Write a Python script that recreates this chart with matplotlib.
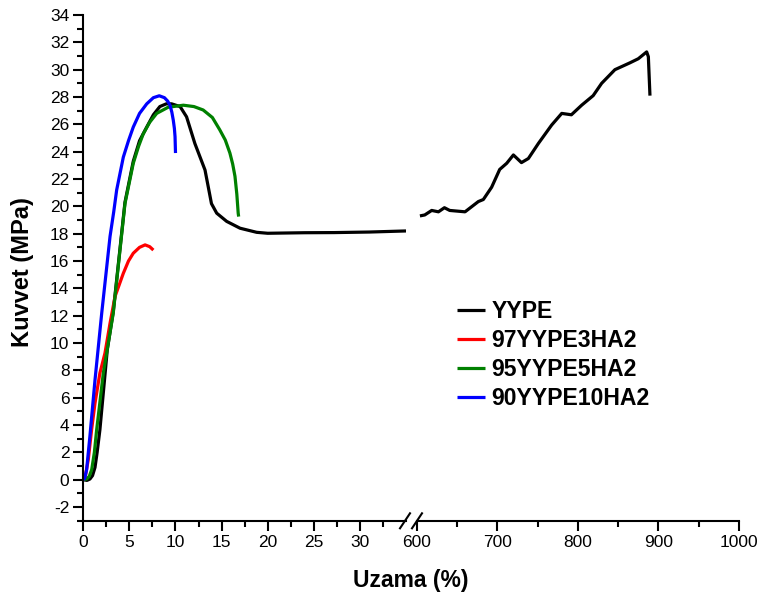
import matplotlib.pyplot as plt
from matplotlib.lines import Line2D

plt.rcParams['font.family'] = ['Liberation Sans', 'DejaVu Sans']
plt.rcParams['axes.unicode_minus'] = False

# stress-strain curves, strain (%) vs force (MPa)
yype_x = [0, 0.4, 0.72, 1.0, 1.27, 1.5, 1.8, 2.3, 2.6, 3.25, 4.09, 4.52, 5.42, 6.1, 6.88,
          7.6, 8.3, 9.0, 9.58, 10.5, 11.2, 12.1, 13.2, 13.56, 13.9, 14.47, 15.55, 17.0,
          18.8, 20.0, 24.0, 27.2, 31.0, 35.0]
yype_y = [0, -0.05, 0.05, 0.3, 0.9, 2.0, 3.65, 7.3, 9.5, 12.3, 17.6, 20.3, 23.3, 24.8,
          25.8, 26.7, 27.3, 27.5, 27.5, 27.3, 26.55, 24.6, 22.66, 21.4, 20.2, 19.5, 18.9,
          18.4, 18.1, 18.03, 18.07, 18.08, 18.12, 18.2]

# YYPE beyond the axis break
yype_x2 = [604, 610, 618.6, 627, 634.4, 641, 660, 676.5, 682.7, 693, 703, 711.7, 720, 730,
           738.6, 751, 767.5, 780, 792, 804.7, 819, 829.5, 846, 864.6, 875, 885.4, 887.5,
           889.5]
yype_y2 = [19.3, 19.37, 19.7, 19.6, 19.9, 19.7, 19.6, 20.35, 20.5, 21.4, 22.7, 23.15, 23.76,
           23.2, 23.5, 24.6, 25.95, 26.8, 26.7, 27.4, 28.1, 29.0, 30.0, 30.5, 30.8, 31.3,
           30.95, 28.1]

ha3_x = [0, 0.18, 0.54, 0.9, 1.27, 1.8, 2.35, 2.9, 3.44, 4.34, 4.9, 5.42, 6.1, 6.7, 7.2, 7.6]
ha3_y = [0, 0.1, 1.46, 3.65, 5.6, 7.8, 9.26, 11.45, 13.4, 15.1, 16.0, 16.57, 17.0, 17.18,
         17.05, 16.8]

ha5_x = [0, 0.37, 0.65, 0.91, 1.2, 1.45, 2.17, 3.25, 4.09, 4.52, 5.42, 6.0, 6.5, 7.2, 7.96,
         9.2, 10.85, 12.0, 13.0, 14.0, 14.8, 15.4, 15.9, 16.2, 16.45, 16.65, 16.8, 16.85]
ha5_y = [0, 0.05, 0.25, 0.73, 2.0, 3.65, 7.8, 12.2, 17.5, 20.2, 23.15, 24.4, 25.3, 26.15,
         26.8, 27.25, 27.4, 27.3, 27.05, 26.5, 25.6, 24.85, 23.9, 23.1, 22.2, 20.9, 19.5,
         19.25]

ha10_x = [0, 0.15, 0.36, 0.72, 1.27, 2.0, 2.9, 3.3, 3.62, 4.34, 4.9, 5.42, 6.1, 6.88, 7.6,
          8.24, 8.8, 9.15, 9.4, 9.6, 9.76, 9.88, 9.95, 10.0]
ha10_y = [0, 0.1, 0.73, 3.2, 7.3, 12.2, 17.8, 19.6, 21.2, 23.6, 24.8, 25.8, 26.8, 27.5,
          27.95, 28.09, 27.95, 27.7, 27.4, 26.9, 26.3, 25.7, 25.1, 23.9]

labels = ['YYPE', '97YYPE3HA2', '95YYPE5HA2', '90YYPE10HA2']
colors = ['black', 'red', 'green', 'blue']

left_ticks = [0, 5, 10, 15, 20, 25, 30]
left_minor = [2.5, 7.5, 12.5, 17.5, 22.5, 27.5, 32.5]
right_ticks = [600, 700, 800, 900, 1000]
right_minor = [650, 750, 850, 950]
y_ticks = list(range(-2, 35, 2))
y_minor = list(range(-3, 35, 2))

W, H = 764, 599
fig = plt.figure(figsize=(W / 100, H / 100), dpi=100)

bottom = 1 - 520.7 / H
height = (520.7 - 15) / H
ax1 = fig.add_axes([83.3 / W, bottom, (406 - 83.3) / W, height])
ax2 = fig.add_axes([416.7 / W, bottom, (739 - 416.7) / W, height], sharey=ax1)

lw = 2.3
kw = dict(lw=lw, solid_joinstyle='round', solid_capstyle='butt')
ax1.plot(yype_x, yype_y, color=colors[0], label=labels[0], **kw)
ax1.plot(ha3_x, ha3_y, color=colors[1], label=labels[1], **kw)
ax1.plot(ha5_x, ha5_y, color=colors[2], label=labels[2], **kw)
ax1.plot(ha10_x, ha10_y, color=colors[3], label=labels[3], **kw)
ax2.plot(yype_x2, yype_y2, color=colors[0], **kw)

ax1.set_xlim(0, 35)
ax2.set_xlim(600, 1000)
ax1.set_ylim(-3, 34)

for ax in (ax1, ax2):
    ax.spines['top'].set_visible(False)
    ax.spines['right'].set_visible(False)
    ax.spines['bottom'].set_linewidth(1.5)
    ax.spines['left'].set_linewidth(1.5)
    ax.tick_params(which='major', direction='out', length=7, width=1.5, labelsize=12.5, pad=3)
    ax.tick_params(which='minor', direction='out', length=4, width=1.5)

ax1.set_xticks(left_ticks)
ax1.set_xticks(left_minor, minor=True)
ax1.set_yticks(y_ticks)
ax1.set_yticks(y_minor, minor=True)
ax2.set_xticks(right_ticks)
ax2.set_xticks(right_minor, minor=True)
ax2.spines['left'].set_visible(False)
ax2.tick_params(axis='y', which='both', left=False, labelleft=False)

# break marks on the x axis
def px(x, y):
    return x / W, 1 - y / H

for x0 in (400, 412):
    (a, b), (c, d) = px(x0, 528.3), px(x0 + 10, 513.3)
    fig.add_artist(Line2D([a, c], [b, d], transform=fig.transFigure, color='black', lw=1.5))

fig.text(411 / W, 1 - 580 / H, 'Uzama (%)', ha='center', va='center',
         fontsize=16.5, fontweight='bold')
fig.text(23 / W, 1 - 272 / H, 'Kuvvet (MPa)', ha='center', va='center', rotation=90,
         fontsize=17, fontweight='bold')

handles, labs = ax1.get_legend_handles_labels()
fig.legend(handles, labs, loc='upper left', bbox_to_anchor=(456.5 / W, 1 - 300 / H),
           frameon=False, borderpad=0, borderaxespad=0, handlelength=1.23,
           handletextpad=0.29, labelspacing=0.26,
           prop={'weight': 'bold', 'size': 16.6})

fig.savefig('out.png', dpi=100)
